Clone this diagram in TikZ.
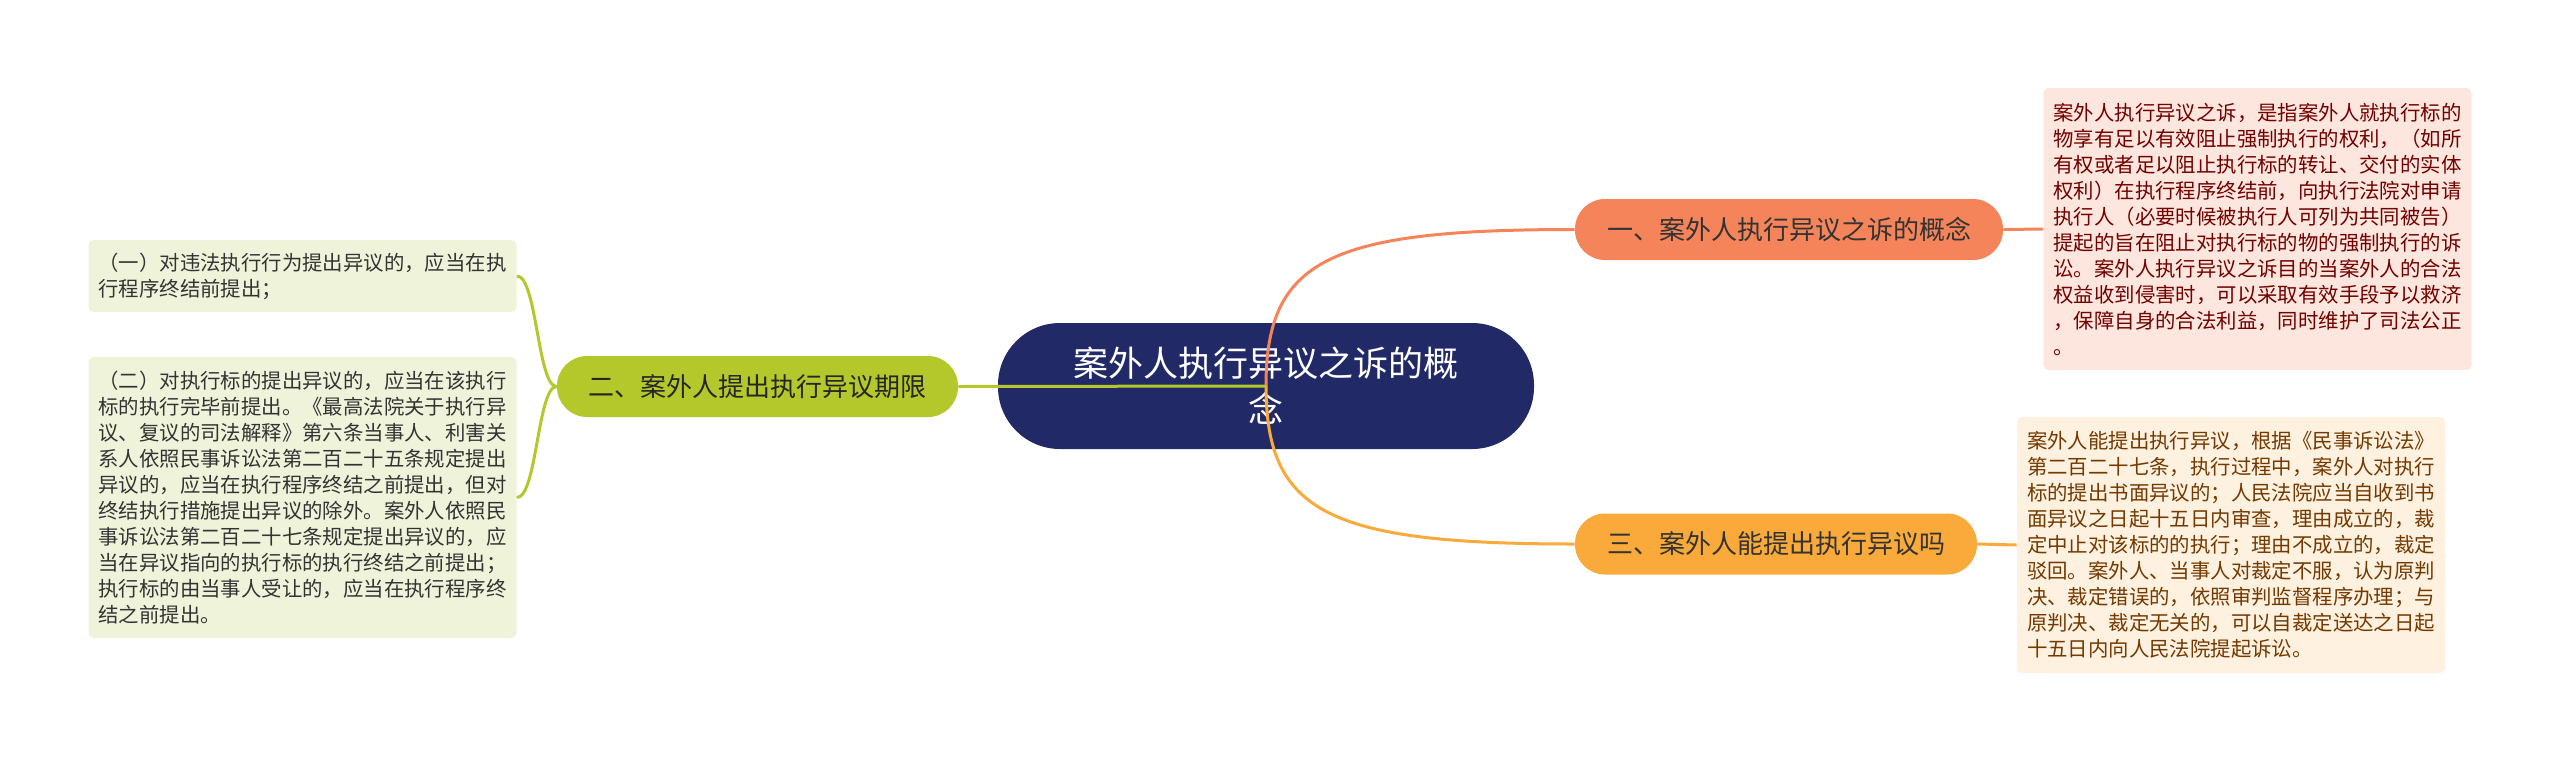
\documentclass[tikz,border=0pt]{standalone}
\usepackage{fontspec}
\setmainfont{Noto Sans CJK SC}
\definecolor{navy}{HTML}{212A67}
\definecolor{coral}{HTML}{F5845A}
\definecolor{amber}{HTML}{F9AA3A}
\definecolor{lime}{HTML}{B4C82B}
\definecolor{coralbg}{HTML}{FCE6DD}
\definecolor{amberbg}{HTML}{FEF1DF}
\definecolor{limebg}{HTML}{EFF3DA}
\tikzset{
  root/.style={fill=navy, text=white, rounded corners=31pt, minimum width=268pt,
    minimum height=63pt, align=center, font=\fontsize{17.5}{23}\selectfont},
  topic/.style={rounded corners=15pt, minimum height=30.5pt, text=black!80,
    font=\fontsize{13}{15}\selectfont},
  leaf/.style={rounded corners=2.5pt, minimum width=214pt, align=left,
    font=\fontsize{10.2}{13}\selectfont},
  link/.style={line width=1.5pt}
}
\begin{document}
\begin{tikzpicture}[x={(0.5pt,0)},y={(0,-0.5pt)}]  % ------ pixels, y down -----
    \useasboundingbox (0,0) rectangle (2560,761);
    % ---- nodes
    \node[root] (c) at (1266,386) {案外人执行异议之诉的概\\念};
    \node[topic, fill=coral, minimum width=214pt] (b1) at (1789,229.5) {一、案外人执行异议之诉的概念};
    \node[topic, fill=lime, minimum width=200.5pt, text=black!85] (b2) at (757.5,386.5) {二、案外人提出执行异议期限};
    \node[topic, fill=amber, minimum width=201pt] (b3) at (1776,544) {三、案外人能提出执行异议吗};
    \node[leaf, fill=coralbg, text=red!45!black, minimum height=141pt] (l1) at (2257.5,229) {%
案外人执行异议之诉，是指案外人就执行标的\\
物享有足以有效阻止强制执行的权利，（如所\\
有权或者足以阻止执行标的转让、交付的实体\\
权利）在执行程序终结前，向执行法院对申请\\
执行人（必要时候被执行人可列为共同被告）\\
提起的旨在阻止对执行标的物的强制执行的诉\\
讼。案外人执行异议之诉目的当案外人的合法\\
权益收到侵害时，可以采取有效手段予以救济\\
，保障自身的合法利益，同时维护了司法公正\\
。};
    \node[leaf, fill=amberbg, text=orange!45!black, minimum height=128pt] (l3) at (2231,545) {%
案外人能提出执行异议，根据《民事诉讼法》\\
第二百二十七条，执行过程中，案外人对执行\\
标的提出书面异议的；人民法院应当自收到书\\
面异议之日起十五日内审查，理由成立的，裁\\
定中止对该标的的执行；理由不成立的，裁定\\
驳回。案外人、当事人对裁定不服，认为原判\\
决、裁定错误的，依照审判监督程序办理；与\\
原判决、裁定无关的，可以自裁定送达之日起\\
十五日内向人民法院提起诉讼。};
    \node[leaf, fill=limebg, text=black!80, minimum height=36pt] (l2a) at (302.5,276) {%
（一）对违法执行行为提出异议的，应当在执\\
行程序终结前提出；};
    \node[leaf, fill=limebg, text=black!80, minimum height=140.5pt] (l2b) at (302.5,497.5) {%
（二）对执行标的提出异议的，应当在该执行\\
标的执行完毕前提出。《最高法院关于执行异\\
议、复议的司法解释》第六条当事人、利害关\\
系人依照民事诉讼法第二百二十五条规定提出\\
异议的，应当在执行程序终结之前提出，但对\\
终结执行措施提出异议的除外。案外人依照民\\
事诉讼法第二百二十七条规定提出异议的，应\\
当在异议指向的执行标的执行终结之前提出；\\
执行标的由当事人受让的，应当在执行程序终\\
结之前提出。};
    % ---- connectors
    \draw[link, coral] (c.center) .. controls +(0,-127) and +(-245,0) .. (b1.west);
    \draw[link, amber] (c.center) .. controls +(0,127) and +(-245,0) .. (b3.west);
    \draw[link, lime] (c.center) -- (b2.east);
    \draw[link, coral] (b1.east) -- (l1.west);
    \draw[link, amber] (b3.east) -- (l3.west);
    \draw[link, lime] (b2.west) .. controls +(-19,0) and +(20,0) .. (l2a.east);
    \draw[link, lime] (b2.west) .. controls +(-19,0) and +(20,0) .. (l2b.east);
\end{tikzpicture}
\end{document}
